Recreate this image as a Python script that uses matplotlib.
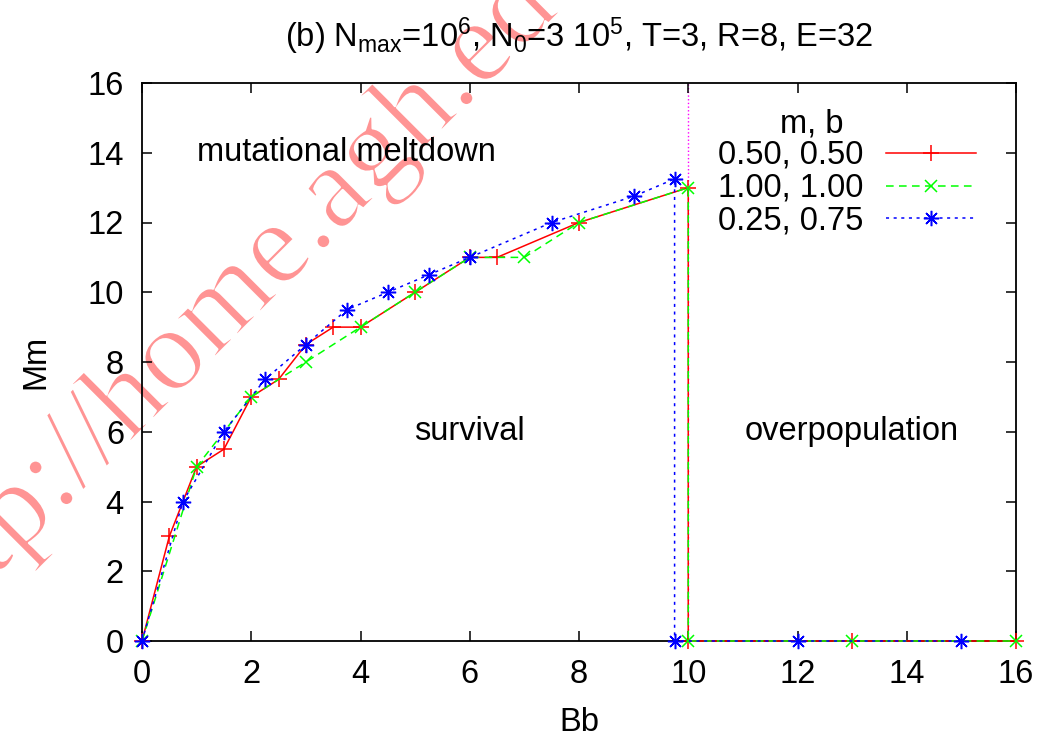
import matplotlib
matplotlib.use('Agg')
import matplotlib.pyplot as plt
import matplotlib.patheffects as pe

plt.rcParams['font.family'] = ['Liberation Sans', 'DejaVu Sans']
plt.rcParams['mathtext.default'] = 'regular'

# m=0.50, b=0.50
red_x = [0, 0.5, 1, 1.5, 2, 2.5, 3, 3.5, 4, 5, 6, 6.5, 8, 10, 10, 13, 16]
red_y = [0, 3, 5, 5.5, 7, 7.5, 8.5, 9, 9, 10, 11, 11, 12, 13, 0, 0, 0]
# m=1.00, b=1.00
green_x = [0, 1, 2, 3, 4, 5, 6, 7, 8, 10, 10, 13, 16]
green_y = [0, 5, 7, 8, 9, 10, 11, 11, 12, 13, 0, 0, 0]
# m=0.25, b=0.75
blue_x = [0, 0.75, 1.5, 2.25, 3, 3.75, 4.5, 5.25, 6, 7.5, 9, 9.75, 9.75, 12, 15]
blue_y = [0, 4, 6, 7.5, 8.5, 9.5, 10, 10.5, 11, 12, 12.75, 13.25, 0, 0, 0]

labels = ['0.50, 0.50', '1.00, 1.00', '0.25, 0.75']
ticks = [0, 2, 4, 6, 8, 10, 12, 14, 16]

fs = 23.5
fig = plt.figure(figsize=(10.42, 7.37), dpi=100)
ax = fig.add_axes([142/1042, 1-641/737, (1016-142)/1042, (641-83)/737])

# watermark (behind everything)
fig.text(0.2960, 0.6420, 'http://home.agh.edu.pl', rotation=45, rotation_mode='anchor',
         ha='center', va='baseline', fontsize=86, family='Liberation Serif',
         color='#ff9494', zorder=-5,
         path_effects=[pe.Normal(), pe.Stroke(linewidth=1.8, foreground='white')])

ax.axvline(10, color='#ff00ff', ls=':', lw=1.0, zorder=1)
ax.plot(red_x, red_y, color='#ff0000', lw=1.1, marker='+', ms=11, mew=1.1,
        label=labels[0], clip_on=False, zorder=3)
ax.plot(green_x, green_y, color='#00ff00', lw=1.1, ls=(0, (5, 3.5)), marker='x', ms=9, mew=1.1,
        label=labels[1], clip_on=False, zorder=3)
ax.plot(blue_x, blue_y, color='#0000ff', lw=1.1, ls=(0, (2, 3)), marker=(8, 2, 0), ms=11, mew=1.1,
        label=labels[2], clip_on=False, zorder=3)

ax.set_xlim(0, 16)
ax.set_ylim(0, 16)
ax.set_xticks(ticks)
ax.set_yticks(ticks)
ax.tick_params(direction='in', length=7, width=1.1, labelsize=fs, pad=13,
               top=True, right=True)
for s in ax.spines.values():
    s.set_linewidth(1.3)
ax.patch.set_alpha(0)

ax.set_xlabel('Bb', fontsize=fs, labelpad=12)
ax.set_ylabel('Mm', fontsize=fs, labelpad=26)
ax.set_title(r'(b) N$_{max}$=10$^6$, N$_0$=3 10$^5$, T=3, R=8, E=32', fontsize=fs, pad=26)

ax.text(1, 14, 'mutational meltdown', fontsize=fs, ha='left', va='center')
ax.text(6, 6, 'survival', fontsize=fs, ha='center', va='center')
ax.text(13, 6, 'overpopulation', fontsize=fs, ha='center', va='center')

fig.text(812/1042, 1-124/737, 'm, b', fontsize=fs, ha='center', va='center')
leg = ax.legend(loc='upper right', bbox_to_anchor=(976/1042, 1-140/737),
                bbox_transform=fig.transFigure, frameon=False, fontsize=fs,
                markerfirst=False, handlelength=2.75, handletextpad=0.7,
                labelspacing=0.06, borderpad=0, borderaxespad=0, numpoints=1)

fig.savefig('out.png', dpi=100)
